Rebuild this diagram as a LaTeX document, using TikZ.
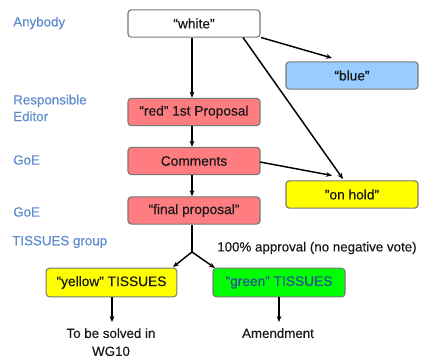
\documentclass[tikz,border=0pt]{standalone}
\usepackage{fontspec}
\setmainfont{Liberation Sans}[FakeBold=0.35]
\usetikzlibrary{arrows.meta}
\definecolor{redfill}{RGB}{255,124,128}
\definecolor{bluefill}{RGB}{153,204,255}
\definecolor{yellowfill}{RGB}{255,255,0}
\definecolor{greenfill}{RGB}{0,255,0}
\definecolor{labelblue}{RGB}{95,140,205}
\definecolor{greentext}{RGB}{45,80,150}
\definecolor{boxline}{RGB}{120,120,120}
\begin{document}
\begin{tikzpicture}[x=0.75pt,y=-0.75pt,
  box/.style={draw=boxline,line width=0.8pt,rounded corners=2.5pt,minimum width=99pt,minimum height=20.5pt,inner sep=0pt,font=\fontsize{10.3}{12}\selectfont,text=black!90},
  lbl/.style={text=labelblue,font=\fontsize{10}{12.5}\selectfont,anchor=west,align=left,inner sep=0pt},
  txt/.style={font=\fontsize{10}{13.5}\selectfont,text=black!90,inner sep=0pt,align=center},
  arr/.style={line width=1.1pt,-{Stealth[length=4.5pt,width=3.6pt]}},
  ln/.style={line width=1.1pt}]
\useasboundingbox (0,0) rectangle (422,359);
% left labels
\node[lbl] (l1) at (13,23) {Anybody};
\node[lbl] (l2) at (13,108) {Responsible\\Editor};
\node[lbl] (l3) at (13,160) {GoE};
\node[lbl] (l4) at (13,212) {GoE};
\node[lbl] (l5) at (12,242) {TISSUES group};
% boxes
\node[box,fill=white] (white) at (194,23.5) {“white”};
\node[box,fill=redfill] (red) at (194,112) {“red” 1st Proposal};
\node[box,fill=redfill] (comm) at (194,161) {Comments};
\node[box,fill=redfill] (final) at (194,210.5) {“final proposal”};
\node[box,fill=bluefill] (blue) at (352,75.5) {“blue”};
\node[box,fill=yellowfill] (hold) at (352,194.5) {"on hold"};
\node[box,fill=yellowfill,minimum width=98pt,minimum height=21.5pt] (yel) at (111.5,282.5) {“yellow” TISSUES};
\node[box,fill=greenfill,minimum height=21.5pt,text=greentext] (grn) at (279,282.5) {“green” TISSUES};
% texts
\node[txt,anchor=west] (appr) at (217,248) {100\% approval (no negative vote)};
\node[txt,anchor=north] (solve) at (111,328) {To be solved in\\WG10};
\node[txt,anchor=north] (amend) at (278,328) {Amendment};
% coordinates
\coordinate (wbr) at (261,37.5);
\coordinate (wbr2) at (243,37.5);
\coordinate (blueend) at (332,58);
\coordinate (holdend) at (343,179);
\coordinate (commr) at (260,162);
\coordinate (holdend2) at (332,175.5);
\coordinate (br) at (192,252);
\coordinate (yend) at (173,267);
\coordinate (gend) at (215,268);
\coordinate (ydown) at (112,322);
\coordinate (gdown) at (279,322);
% connectors
\draw[arr] (white.south -| br) -- (red.north -| br);
\draw[arr] (red.south -| br) -- (comm.north -| br);
\draw[arr] (comm.south -| br) -- (final.north -| br);
\draw[ln] (final.south -| br) -- (br);
\draw[arr] (br) -- (yend);
\draw[arr] (br) -- (gend);
\draw[arr] (wbr) -- (blueend);
\draw[arr] (wbr2) -- (holdend);
\draw[arr] (commr) -- (holdend2);
\draw[arr] (yel.south -| ydown) -- (ydown);
\draw[arr] (grn.south -| gdown) -- (gdown);
\end{tikzpicture}
\end{document}
